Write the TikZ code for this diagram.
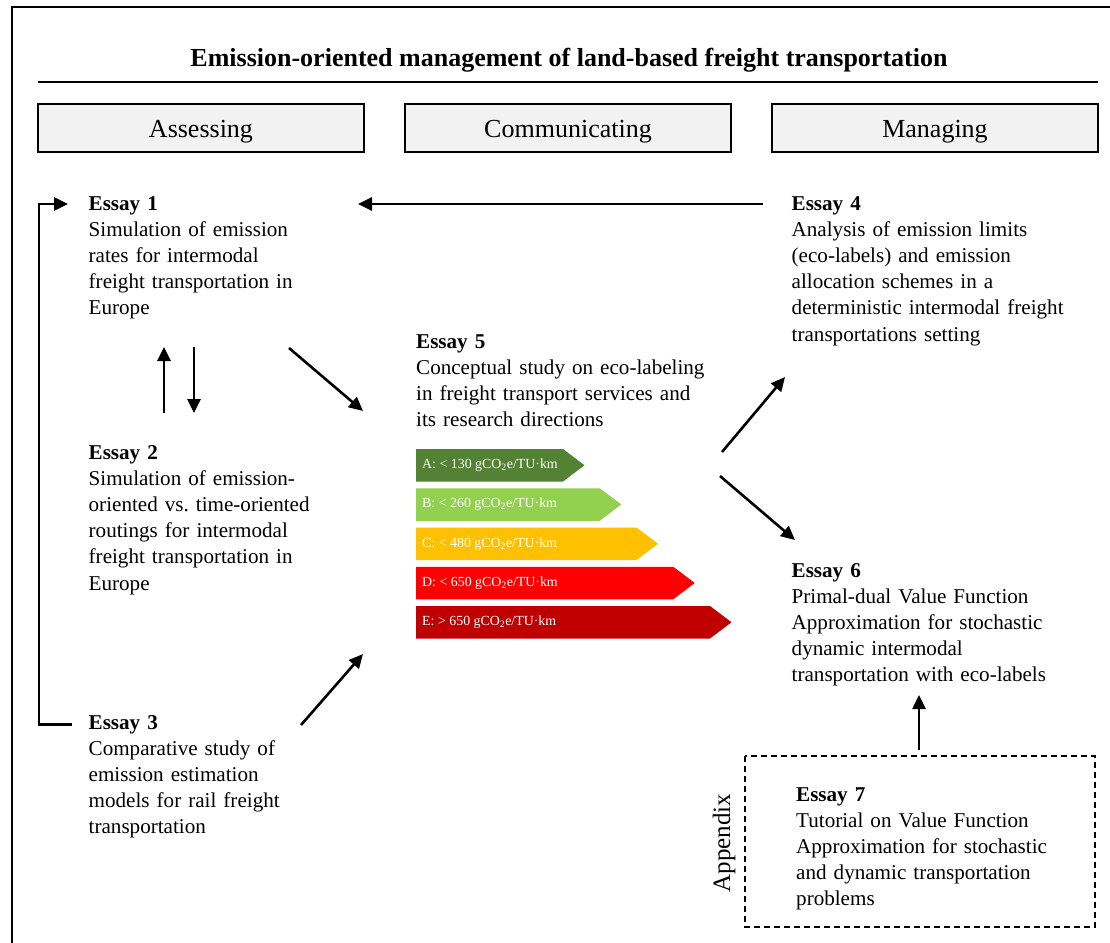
\documentclass[tikz,border=0pt]{standalone}
\usepackage{fontspec}
\setmainfont{Liberation Serif}
\usetikzlibrary{arrows.meta}
\definecolor{hdrfill}{HTML}{F2F2F2}
\definecolor{lblA}{HTML}{548235}
\definecolor{lblB}{HTML}{92D050}
\definecolor{lblC}{HTML}{FFC000}
\definecolor{lblD}{HTML}{FF0000}
\definecolor{lblE}{HTML}{C00000}
\begin{document}
\frenchspacing
\begin{tikzpicture}[x=1bp,y=-1bp,
  essay/.style={anchor=base west, inner sep=0pt, text width=340bp, align=left,
    font=\fontsize{21.1bp}{26.2bp}\selectfont\frenchspacing},
  hdr/.style={draw=black, line width=1.2bp, fill=hdrfill, minimum width=326bp,
    minimum height=48bp, inner sep=0pt, text height=18bp, text depth=0pt,
    font=\fontsize{26bp}{30bp}\selectfont},
  conn/.style={line width=2.6bp, -{Triangle[length=14bp,width=13bp]}},
  bartext/.style={anchor=west, inner sep=0pt, text=white,
    font=\fontsize{13.9bp}{16bp}\selectfont}]
\clip (0,0) rectangle (1110,943);
\fill[white] (0,0) rectangle (1110,943);
% outer frame
\draw[line width=2bp] (12,7) rectangle (1140,970);
% title
\node[inner sep=0pt, anchor=base, font=\fontsize{26bp}{30bp}\selectfont\bfseries] (title) at (569,66.5)
  {Emission-oriented management of land-based freight transportation};
\draw[line width=2bp] (38,82) -- (1098,82);
% headers
\node[hdr] (hA) at (201,128) {Assessing};
\node[hdr] (hC) at (568,128) {Communicating};
\node[hdr] (hM) at (935,128) {Managing};
% essays
\node[essay] (e1) at (88.5,210) {\textbf{Essay 1}\\Simulation of emission\\rates for intermodal\\freight transportation in\\Europe};
\node[essay] (e2) at (88.5,459) {\textbf{Essay 2}\\Simulation of emission-\\oriented vs. time-oriented\\routings for intermodal\\freight transportation in\\Europe};
\node[essay] (e3) at (88.5,729) {\textbf{Essay 3}\\Comparative study of\\emission estimation\\models for rail freight\\transportation};
\node[essay] (e4) at (791.5,210) {\textbf{Essay 4}\\Analysis of emission limits\\(eco-labels) and emission\\allocation schemes in a\\deterministic intermodal freight\\transportations setting};
\node[essay] (e5) at (416,348) {\textbf{Essay 5}\\Conceptual study on eco-labeling\\in freight transport services and\\its research directions};
\node[essay] (e6) at (791.5,577) {\textbf{Essay 6}\\Primal-dual Value Function\\Approximation for stochastic\\dynamic intermodal\\transportation with eco-labels};
\node[essay] (e7) at (796,801) {\textbf{Essay 7}\\Tutorial on Value Function\\Approximation for stochastic\\and dynamic transportation\\problems};
% appendix box
\draw[line width=1.3bp, dash pattern=on 6bp off 4bp] (745,756) rectangle (1095,927);
\node[rotate=90, inner sep=0pt, font=\fontsize{25bp}{30bp}\selectfont] (app) at (724,843) {Appendix};
% eco label bars
\foreach \i/\c/\l/\s in {0/lblA/A/< 130, 1/lblB/B/< 260, 2/lblC/C/< 480, 3/lblD/D/< 650, 4/lblE/E/> 650}{
  \pgfmathsetmacro{\top}{449+39.25*\i}
  \pgfmathsetmacro{\bot}{\top+32.5}
  \pgfmathsetmacro{\mid}{\top+16.25}
  \pgfmathsetmacro{\re}{563+36.75*\i}
  \pgfmathsetmacro{\tip}{\re+21.5}
  \fill[\c] (416,\top) -- (\re,\top) -- (\tip,\mid) -- (\re,\bot) -- (416,\bot) -- cycle;
  \node[bartext] (bar\l) at (422,\mid) {\l: \s\ gCO\textsubscript{2}e/TU·km};
}
% connector end points
\coordinate (p4s) at (763,204);
\coordinate (p1e) at (358,204);
\coordinate (p3l) at (72,724.5);
\coordinate (p1l) at (68,204);
\coordinate (up1) at (164,413);
\coordinate (up2) at (164,347);
\coordinate (dn1) at (194,347);
\coordinate (dn2) at (194,413);
\coordinate (d15a) at (289,348);
\coordinate (d15b) at (363,411);
\coordinate (d35a) at (301,725);
\coordinate (d35b) at (363,654);
\coordinate (d54a) at (722,452);
\coordinate (d54b) at (785,377);
\coordinate (d56a) at (720,476);
\coordinate (d56b) at (795,540);
\coordinate (d76a) at (919,750);
\coordinate (d76b) at (919,695);
% connectors
\draw[conn] (p4s) -- (p1e);
\draw[conn] (p3l) -- (39,724.5) -- (39,204) -- (p1l);
\draw[conn] (up1) -- (up2);
\draw[conn] (dn1) -- (dn2);
\draw[conn] (d15a) -- (d15b);
\draw[conn] (d35a) -- (d35b);
\draw[conn] (d54a) -- (d54b);
\draw[conn] (d56a) -- (d56b);
\draw[conn] (d76a) -- (d76b);
\end{tikzpicture}
\end{document}
